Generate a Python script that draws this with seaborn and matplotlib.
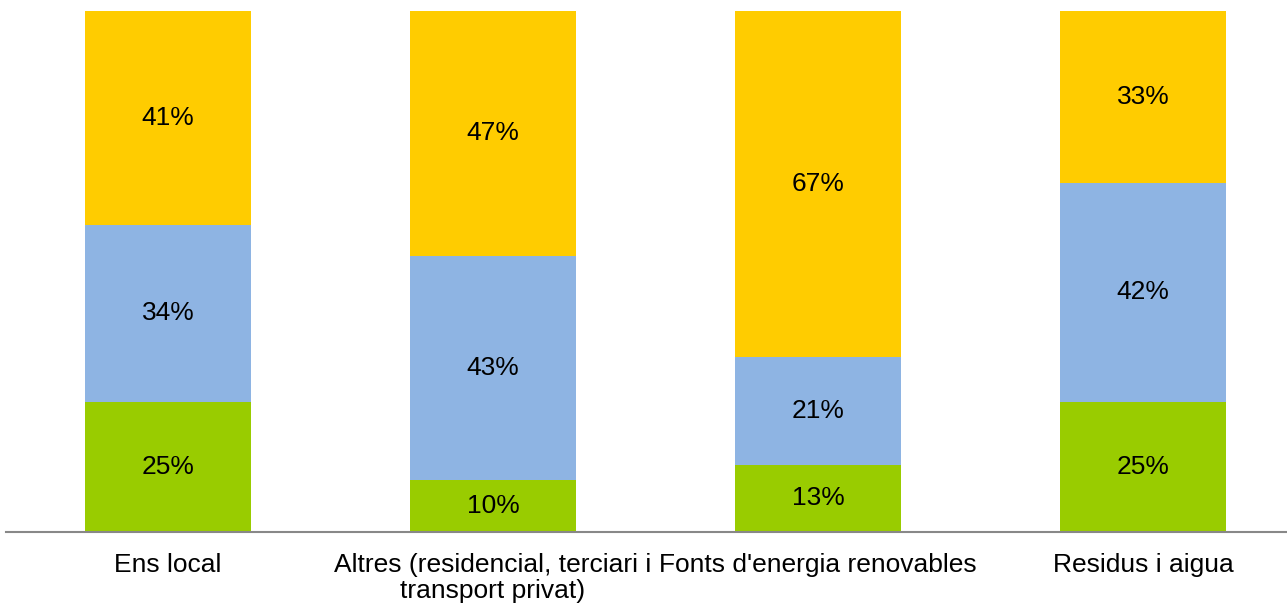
import numpy as np
import pandas as pd
import matplotlib
matplotlib.use("Agg")
import matplotlib.pyplot as plt
import seaborn as sns

categorias = [
    "Ens local",
    "Altres (residencial, terciari i\ntransport privat)",
    "Fonts d'energia renovables",
    "Residus i aigua",
]
verd = [25, 10, 13, 25]
blau = [34, 43, 21, 42]
groc = [41, 47, 67, 33]

colors = ["#99CC00", "#8EB4E3", "#FFCC00"]

sns.set_theme(style="white")
plt.rcParams["font.family"] = ["Liberation Sans", "DejaVu Sans"]

df = pd.DataFrame({"categoria": categorias, "verd": verd, "blau": blau, "groc": groc})
total = df[["verd", "blau", "groc"]].sum(axis=1)
# percentatges normalitzats a 100
for c in ["verd", "blau", "groc"]:
    df[c + "_n"] = df[c] / total * 100
df["cum1"] = df["verd_n"]
df["cum2"] = df["verd_n"] + df["blau_n"]
df["cum3"] = df["cum2"] + df["groc_n"]

fig = plt.figure(figsize=(12.87, 6.09), dpi=100)
ax = fig.add_axes([5.5 / 1287, 77 / 609, 1300 / 1287, 521 / 609])

# barres apilades: de la més alta a la més baixa
for col, color in zip(["cum3", "cum2", "cum1"], colors[::-1]):
    sns.barplot(data=df, x="categoria", y=col, color=color, width=0.511,
                saturation=1, ax=ax, edgecolor="none", linewidth=0)

for i, row in df.iterrows():
    mids = [row["cum1"] / 2, (row["cum1"] + row["cum2"]) / 2, (row["cum2"] + row["cum3"]) / 2]
    for m, v in zip(mids, [row["verd"], row["blau"], row["groc"]]):
        ax.text(i, m, f"{v}%", ha="center", va="center", fontsize=19, color="black")

ax.set_xlim(-0.5, 3.5)
ax.set_ylim(0, 100)
ax.set_xlabel("")
ax.set_ylabel("")
ax.set_yticks([])
for s in ["top", "right", "left"]:
    ax.spines[s].set_visible(False)
ax.spines["bottom"].set_color("#888888")
ax.spines["bottom"].set_linewidth(1.5)
ax.tick_params(axis="x", length=0, pad=15, labelsize=19, labelcolor="black")
for lbl in ax.get_xticklabels():
    lbl.set_linespacing(1.12)

fig.savefig("out.png", dpi=100)
plt.close()
